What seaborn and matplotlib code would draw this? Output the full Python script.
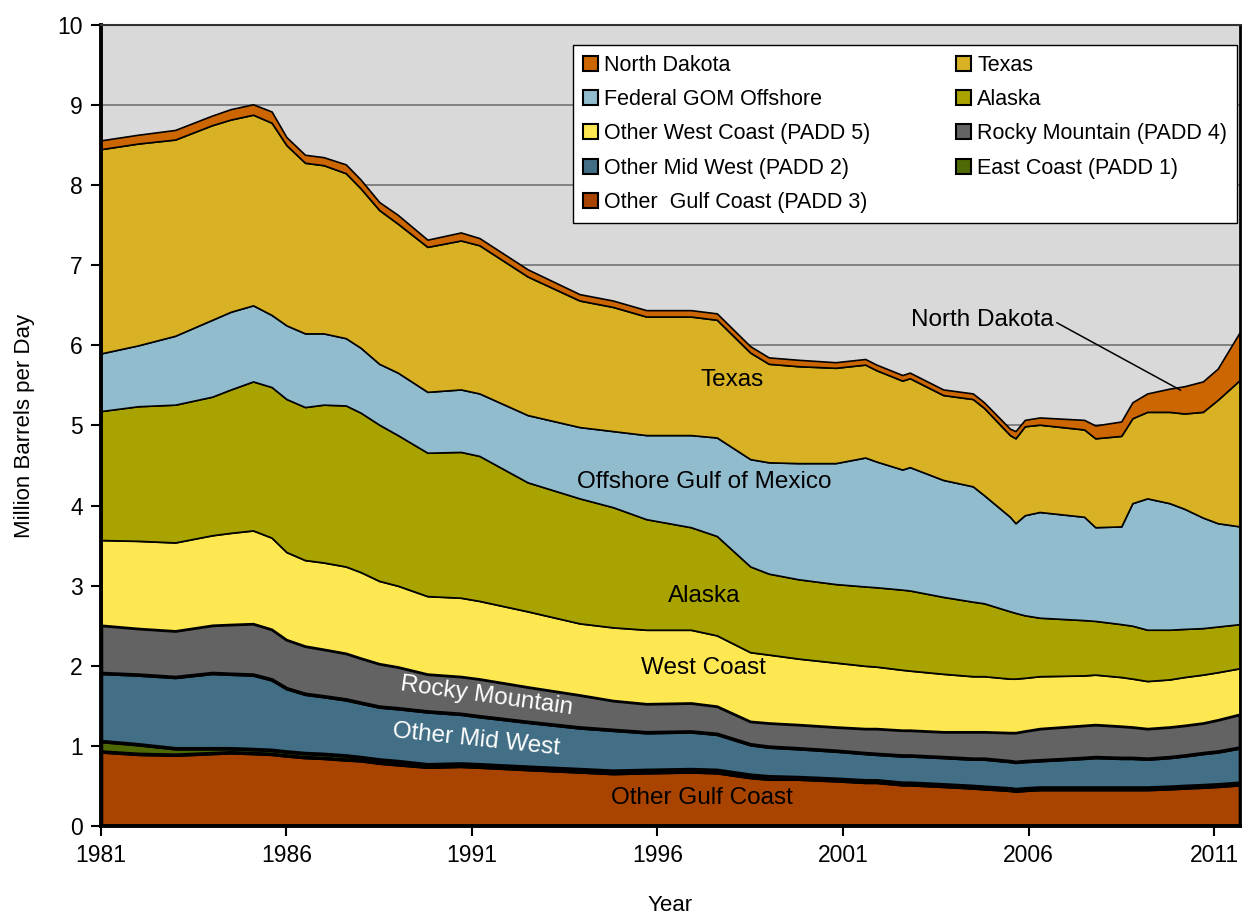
import matplotlib
matplotlib.use("Agg")
import matplotlib.pyplot as plt
from matplotlib.patches import Patch
import seaborn as sns

# time axis (decimal years) and production by region, million barrels per day
years = [1981.0, 1982.0, 1983.0, 1984.0, 1984.5, 1985.1, 1985.6, 1986.0, 1986.5, 1987.0,
         1987.6, 1988.0, 1988.5, 1989.0, 1989.8, 1990.7, 1991.2, 1992.5, 1993.9, 1994.8,
         1995.7, 1996.9, 1997.6, 1998.5, 1999.0, 1999.8, 2000.8, 2001.6, 2001.9, 2002.6,
         2002.8, 2003.7, 2004.5, 2004.8, 2005.5, 2005.65, 2005.9, 2006.3, 2007.5, 2007.8,
         2008.5, 2008.8, 2009.2, 2009.8, 2010.2, 2010.7, 2011.1, 2011.7]

gulf_coast = [.93, .90, .89, .91, .92, .91, .90, .88, .86, .85,
              .83, .82, .79, .77, .74, .75, .74, .71, .68, .66,
              .67, .68, .67, .61, .59, .59, .57, .55, .55, .52,
              .52, .50, .48, .47, .45, .44, .45, .46, .46, .46,
              .46, .46, .46, .47, .48, .49, .50, .52]
east_coast = [.13, .12, .08, .06, .05, .05, .05, .05, .05, .05,
              .05, .04, .04, .04, .03, .03, .03, .03, .03, .03,
              .03, .03, .03, .03, .03, .02, .02, .02, .02, .02,
              .02, .02, .02, .02, .02, .02, .02, .02, .02, .02,
              .02, .02, .02, .02, .02, .02, .02, .02]
mid_west = [.85, .87, .89, .94, .93, .93, .88, .79, .74, .72,
            .70, .68, .66, .66, .66, .62, .60, .56, .52, .51,
            .47, .47, .45, .38, .37, .36, .35, .34, .33, .34,
            .34, .34, .34, .35, .34, .34, .34, .34, .37, .38,
            .37, .37, .36, .37, .38, .40, .41, .44]
rocky_mountain = [.60, .58, .58, .60, .62, .64, .63, .61, .60, .59,
                  .58, .56, .54, .52, .47, .47, .47, .44, .41, .37,
                  .36, .36, .35, .29, .30, .30, .30, .31, .32, .32,
                  .32, .32, .34, .34, .36, .37, .38, .40, .41, .41,
                  .40, .39, .38, .38, .38, .38, .40, .42]
west_coast = [1.06, 1.09, 1.10, 1.12, 1.14, 1.16, 1.14, 1.09, 1.07, 1.08,
              1.08, 1.07, 1.03, 1.01, .97, .98, .97, .94, .89, .91,
              .92, .91, .88, .86, .85, .82, .80, .78, .77, .75,
              .74, .72, .69, .69, .67, .67, .66, .65, .62, .62,
              .61, .60, .59, .59, .60, .60, .59, .57]
alaska = [1.61, 1.68, 1.72, 1.73, 1.79, 1.86, 1.88, 1.91, 1.91, 1.97,
          2.01, 1.99, 1.95, 1.88, 1.79, 1.82, 1.81, 1.61, 1.56, 1.50,
          1.38, 1.28, 1.24, 1.07, 1.01, .99, .98, .99, .99, 1.00,
          1.00, .96, .93, .91, .84, .82, .78, .73, .69, .67,
          .66, .66, .64, .62, .60, .58, .57, .55]
gom_offshore = [.72, .76, .86, .96, .97, .95, .90, .92, .92, .89,
                .84, .81, .76, .78, .76, .78, .78, .84, .89, .95,
                1.05, 1.15, 1.23, 1.34, 1.39, 1.45, 1.51, 1.61, 1.57, 1.50,
                1.54, 1.46, 1.44, 1.35, 1.18, 1.12, 1.25, 1.32, 1.29, 1.17,
                1.22, 1.53, 1.64, 1.58, 1.50, 1.38, 1.29, 1.22]
texas = [2.55, 2.52, 2.45, 2.43, 2.40, 2.38, 2.40, 2.25, 2.13, 2.10,
         2.06, 1.99, 1.92, 1.86, 1.81, 1.86, 1.85, 1.73, 1.58, 1.55,
         1.48, 1.48, 1.47, 1.33, 1.23, 1.21, 1.19, 1.16, 1.14, 1.11,
         1.11, 1.06, 1.09, 1.09, 1.02, 1.06, 1.11, 1.09, 1.09, 1.11,
         1.13, 1.06, 1.08, 1.14, 1.19, 1.32, 1.54, 1.83]
north_dakota = [.11, .11, .12, .12, .13, .13, .14, .10, .10, .10,
                .11, .11, .10, .11, .09, .10, .09, .09, .08, .08,
                .08, .08, .08, .08, .08, .08, .07, .07, .07, .07,
                .07, .07, .07, .07, .08, .09, .08, .09, .12, .16,
                .18, .20, .23, .29, .34, .38, .39, .60]

series = [gulf_coast, east_coast, mid_west, rocky_mountain, west_coast,
          alaska, gom_offshore, texas, north_dakota]
names = ["Other  Gulf Coast (PADD 3)", "East Coast (PADD 1)", "Other Mid West (PADD 2)",
         "Rocky Mountain (PADD 4)", "Other West Coast (PADD 5)", "Alaska",
         "Federal GOM Offshore", "Texas", "North Dakota"]
colors = ["#a94300", "#4f6a04", "#426f86", "#636363", "#fee851",
          "#a9a300", "#91bccd", "#d9b124", "#cc6600"]
edge_widths = [2.6, 2.6, 2.6, 2.6, 1.4, 1.2, 1.2, 1.2, 1.2]

sns.set_theme(style="ticks")
plt.rcParams['font.family'] = ['Liberation Sans', 'DejaVu Sans']
for key in ['text.color', 'axes.labelcolor', 'xtick.color', 'ytick.color']:
    plt.rcParams[key] = 'black'

fig = plt.figure(figsize=(12.51, 9.16), dpi=100)
ax = fig.add_axes([0.0807, 0.0983, 0.9105, 0.8744])
ax.set_facecolor("#d9d9d9")
ax.yaxis.grid(True, color="#7a7a7a", lw=1.3)
ax.set_axisbelow(True)

polys = ax.stackplot(years, *series, colors=colors, edgecolor="black")
for poly, lw in zip(polys, edge_widths):
    poly.set_linewidth(lw)

ax.set_xlim(1981, 2011.7)
ax.set_ylim(0, 10)
ax.set_xticks(range(1981, 2012, 5))
ax.set_yticks(range(0, 11))
ax.tick_params(direction="out", length=7, width=1.5, color="black", labelsize=16.5, pad=6)
ax.spines["left"].set_linewidth(2.8)
ax.spines["bottom"].set_linewidth(2.8)
ax.spines["right"].set_linewidth(2.0)
ax.spines["top"].set_linewidth(1.5)
for side, col in [("left", "black"), ("bottom", "black"), ("right", "black"), ("top", "#333333")]:
    ax.spines[side].set_color(col)

ax.set_xlabel("Year", fontsize=16, labelpad=20)
ax.set_ylabel("Million Barrels per Day", fontsize=16, labelpad=16)

# in-chart labels
txt = dict(fontsize=17.5, ha="center", va="center")
ax.text(1998.0, 5.57, "Texas", **txt)
ax.text(1997.25, 4.29, "Offshore Gulf of Mexico", **txt)
ax.text(1997.25, 2.87, "Alaska", **txt)
ax.text(1997.25, 1.97, "West Coast", **txt)
ax.text(1997.2, 0.35, "Other Gulf Coast", **txt)
ax.text(1991.4, 1.62, "Rocky Mountain", color="white", rotation=-8, **txt)
ax.text(1991.1, 1.08, "Other Mid West", color="white", rotation=-6, **txt)
ax.annotate("North Dakota", xy=(2010.1, 5.44), xytext=(2004.75, 6.32),
            fontsize=17.5, ha="center", va="center",
            arrowprops=dict(arrowstyle="-", color="black", lw=1.1, shrinkA=0, shrinkB=0,
                            relpos=(1.0, 0.45)))

# legend: two columns, filled column-wise, stretched to the box width
order = [8, 6, 4, 2, 0, 7, 5, 3, 1]
handles = [Patch(facecolor=colors[i], edgecolor="black", linewidth=1.5, label=names[i]) for i in order]
leg = ax.legend(handles=handles, ncol=2, loc="upper left", mode="expand",
                bbox_to_anchor=(0.4144, 0.7615, 0.583, 0.2135),
                borderaxespad=0, fontsize=15.5, frameon=True, fancybox=False,
                handlelength=0.7, handleheight=0.7, handletextpad=0.3,
                labelspacing=0.62, borderpad=0.45)
leg.get_frame().set_edgecolor("black")
leg.get_frame().set_linewidth(1.0)
leg.get_frame().set_facecolor("white")
leg.get_frame().set_alpha(1)

fig.savefig("out.png", dpi=100)
